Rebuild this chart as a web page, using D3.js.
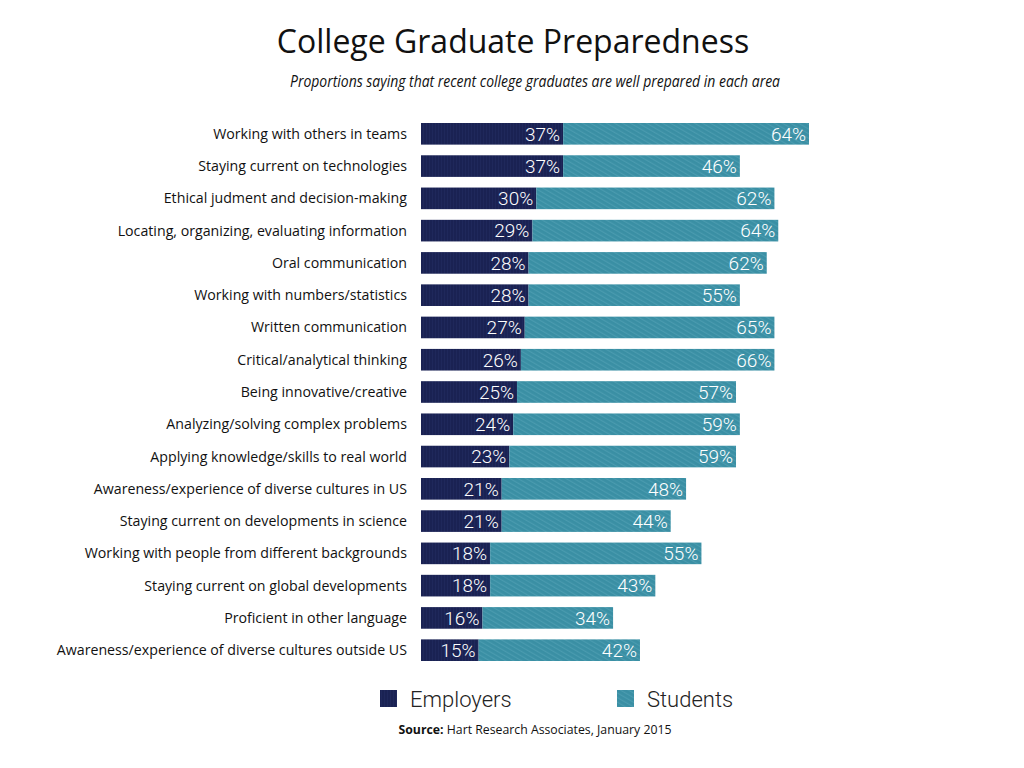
<!DOCTYPE html>
<html><head><meta charset="utf-8">
<script src="https://cdn.jsdelivr.net/npm/d3@7"></script>
<style>body{margin:0;background:#fff}</style>
</head><body>
<svg id="c" width="1024" height="768"></svg>
<script>
const categories = ["Working with others in teams","Staying current on technologies","Ethical judment and decision-making","Locating, organizing, evaluating information","Oral communication","Working with numbers/statistics","Written communication","Critical/analytical thinking","Being innovative/creative","Analyzing/solving complex problems","Applying knowledge/skills to real world","Awareness/experience of diverse cultures in US","Staying current on developments in science","Working with people from different backgrounds","Staying current on global developments","Proficient in other language","Awareness/experience of diverse cultures outside US"];
const employers = [37,37,30,29,28,28,27,26,25,24,23,21,21,18,18,16,15];
const students = [64,46,62,64,62,55,65,66,57,59,59,48,44,55,43,34,42];
const seriesNames = ["Employers","Students"];

const svg = d3.select("#c");
const defs = svg.append("defs");
const pat = defs.append("pattern").attr("id","denim").attr("patternUnits","userSpaceOnUse").attr("width",4).attr("height",4).attr("patternTransform","rotate(-60)");
pat.append("rect").attr("width",4).attr("height",4).attr("fill","#3a8fa4");
pat.append("rect").attr("width",1.2).attr("height",4).attr("fill","#5aa7b9").attr("opacity",0.5);
const pat2 = defs.append("pattern").attr("id","navy").attr("patternUnits","userSpaceOnUse").attr("width",3).attr("height",3);
pat2.append("rect").attr("width",3).attr("height",3).attr("fill","#1a2253");
pat2.append("rect").attr("width",1).attr("height",3).attr("fill","#232c60").attr("opacity",0.6);

const x = d3.scaleLinear().domain([0,101]).range([421,809]);
const y = d3.scaleBand().domain(categories).range([123,661]).paddingInner(0.33).paddingOuter(0);

svg.append("text").attr("x",513).attr("y",53).attr("text-anchor","middle")
  .style("font-family","'Open Sans',Lato,sans-serif").style("font-size","32px").attr("fill","#111")
  .text("College Graduate Preparedness");
svg.append("text").attr("x",535).attr("y",87).attr("text-anchor","middle")
  .style("font-family","'Open Sans',sans-serif").style("font-style","italic").style("font-size","16px").attr("fill","#111")
  .attr("textLength",490).attr("lengthAdjust","spacingAndGlyphs")
  .text("Proportions saying that recent college graduates are well prepared in each area");

const rows = svg.append("g").selectAll("g").data(categories).join("g");
rows.append("text").attr("x",407).attr("y",c=>y(c)+y.bandwidth()/2).attr("dy","0.35em")
  .attr("text-anchor","end").style("font-family","'Open Sans',sans-serif").style("font-size","14.2px").attr("fill","#111")
  .text(c=>c);
rows.append("rect").attr("x",x(0)).attr("y",c=>y(c)).attr("height",y.bandwidth())
  .attr("width",(c,i)=>x(employers[i])-x(0)).attr("fill","url(#navy)");
rows.append("rect").attr("x",(c,i)=>x(employers[i])).attr("y",c=>y(c)).attr("height",y.bandwidth())
  .attr("width",(c,i)=>x(employers[i]+students[i])-x(employers[i])).attr("fill","url(#denim)");
const lf = "'Helvetica Neue',Roboto,Lato,sans-serif";
rows.append("text").attr("x",(c,i)=>x(employers[i])-3).attr("y",c=>y(c)+y.bandwidth()/2).attr("dy","0.36em")
  .attr("text-anchor","end").attr("fill","#fff").style("font-family",lf).style("font-weight",300).style("font-size","19px")
  .text((c,i)=>employers[i]+"%");
rows.append("text").attr("x",(c,i)=>x(employers[i]+students[i])-3).attr("y",c=>y(c)+y.bandwidth()/2).attr("dy","0.36em")
  .attr("text-anchor","end").attr("fill","#fff").style("font-family",lf).style("font-weight",300).style("font-size","19px")
  .text((c,i)=>students[i]+"%");

const leg = [{n:seriesNames[0],f:"url(#navy)",x:380},{n:seriesNames[1],f:"url(#denim)",x:617}];
const lg = svg.append("g").selectAll("g").data(leg).join("g");
lg.append("rect").attr("x",d=>d.x).attr("y",690).attr("width",17).attr("height",17).attr("fill",d=>d.f);
lg.append("text").attr("x",d=>d.x+30).attr("y",699).attr("dy","0.36em")
  .style("font-family",lf).style("font-weight",300).style("font-size","22px").attr("fill","#222")
  .text(d=>d.n);

const src = svg.append("text").attr("x",535).attr("y",734).attr("text-anchor","middle")
  .style("font-family","'Open Sans',sans-serif").style("font-size","12.5px").attr("fill","#111")
  .attr("textLength",273).attr("lengthAdjust","spacingAndGlyphs");
src.append("tspan").style("font-weight","bold").text("Source:");
src.append("tspan").text(" Hart Research Associates, January 2015");
</script>
</body></html>
